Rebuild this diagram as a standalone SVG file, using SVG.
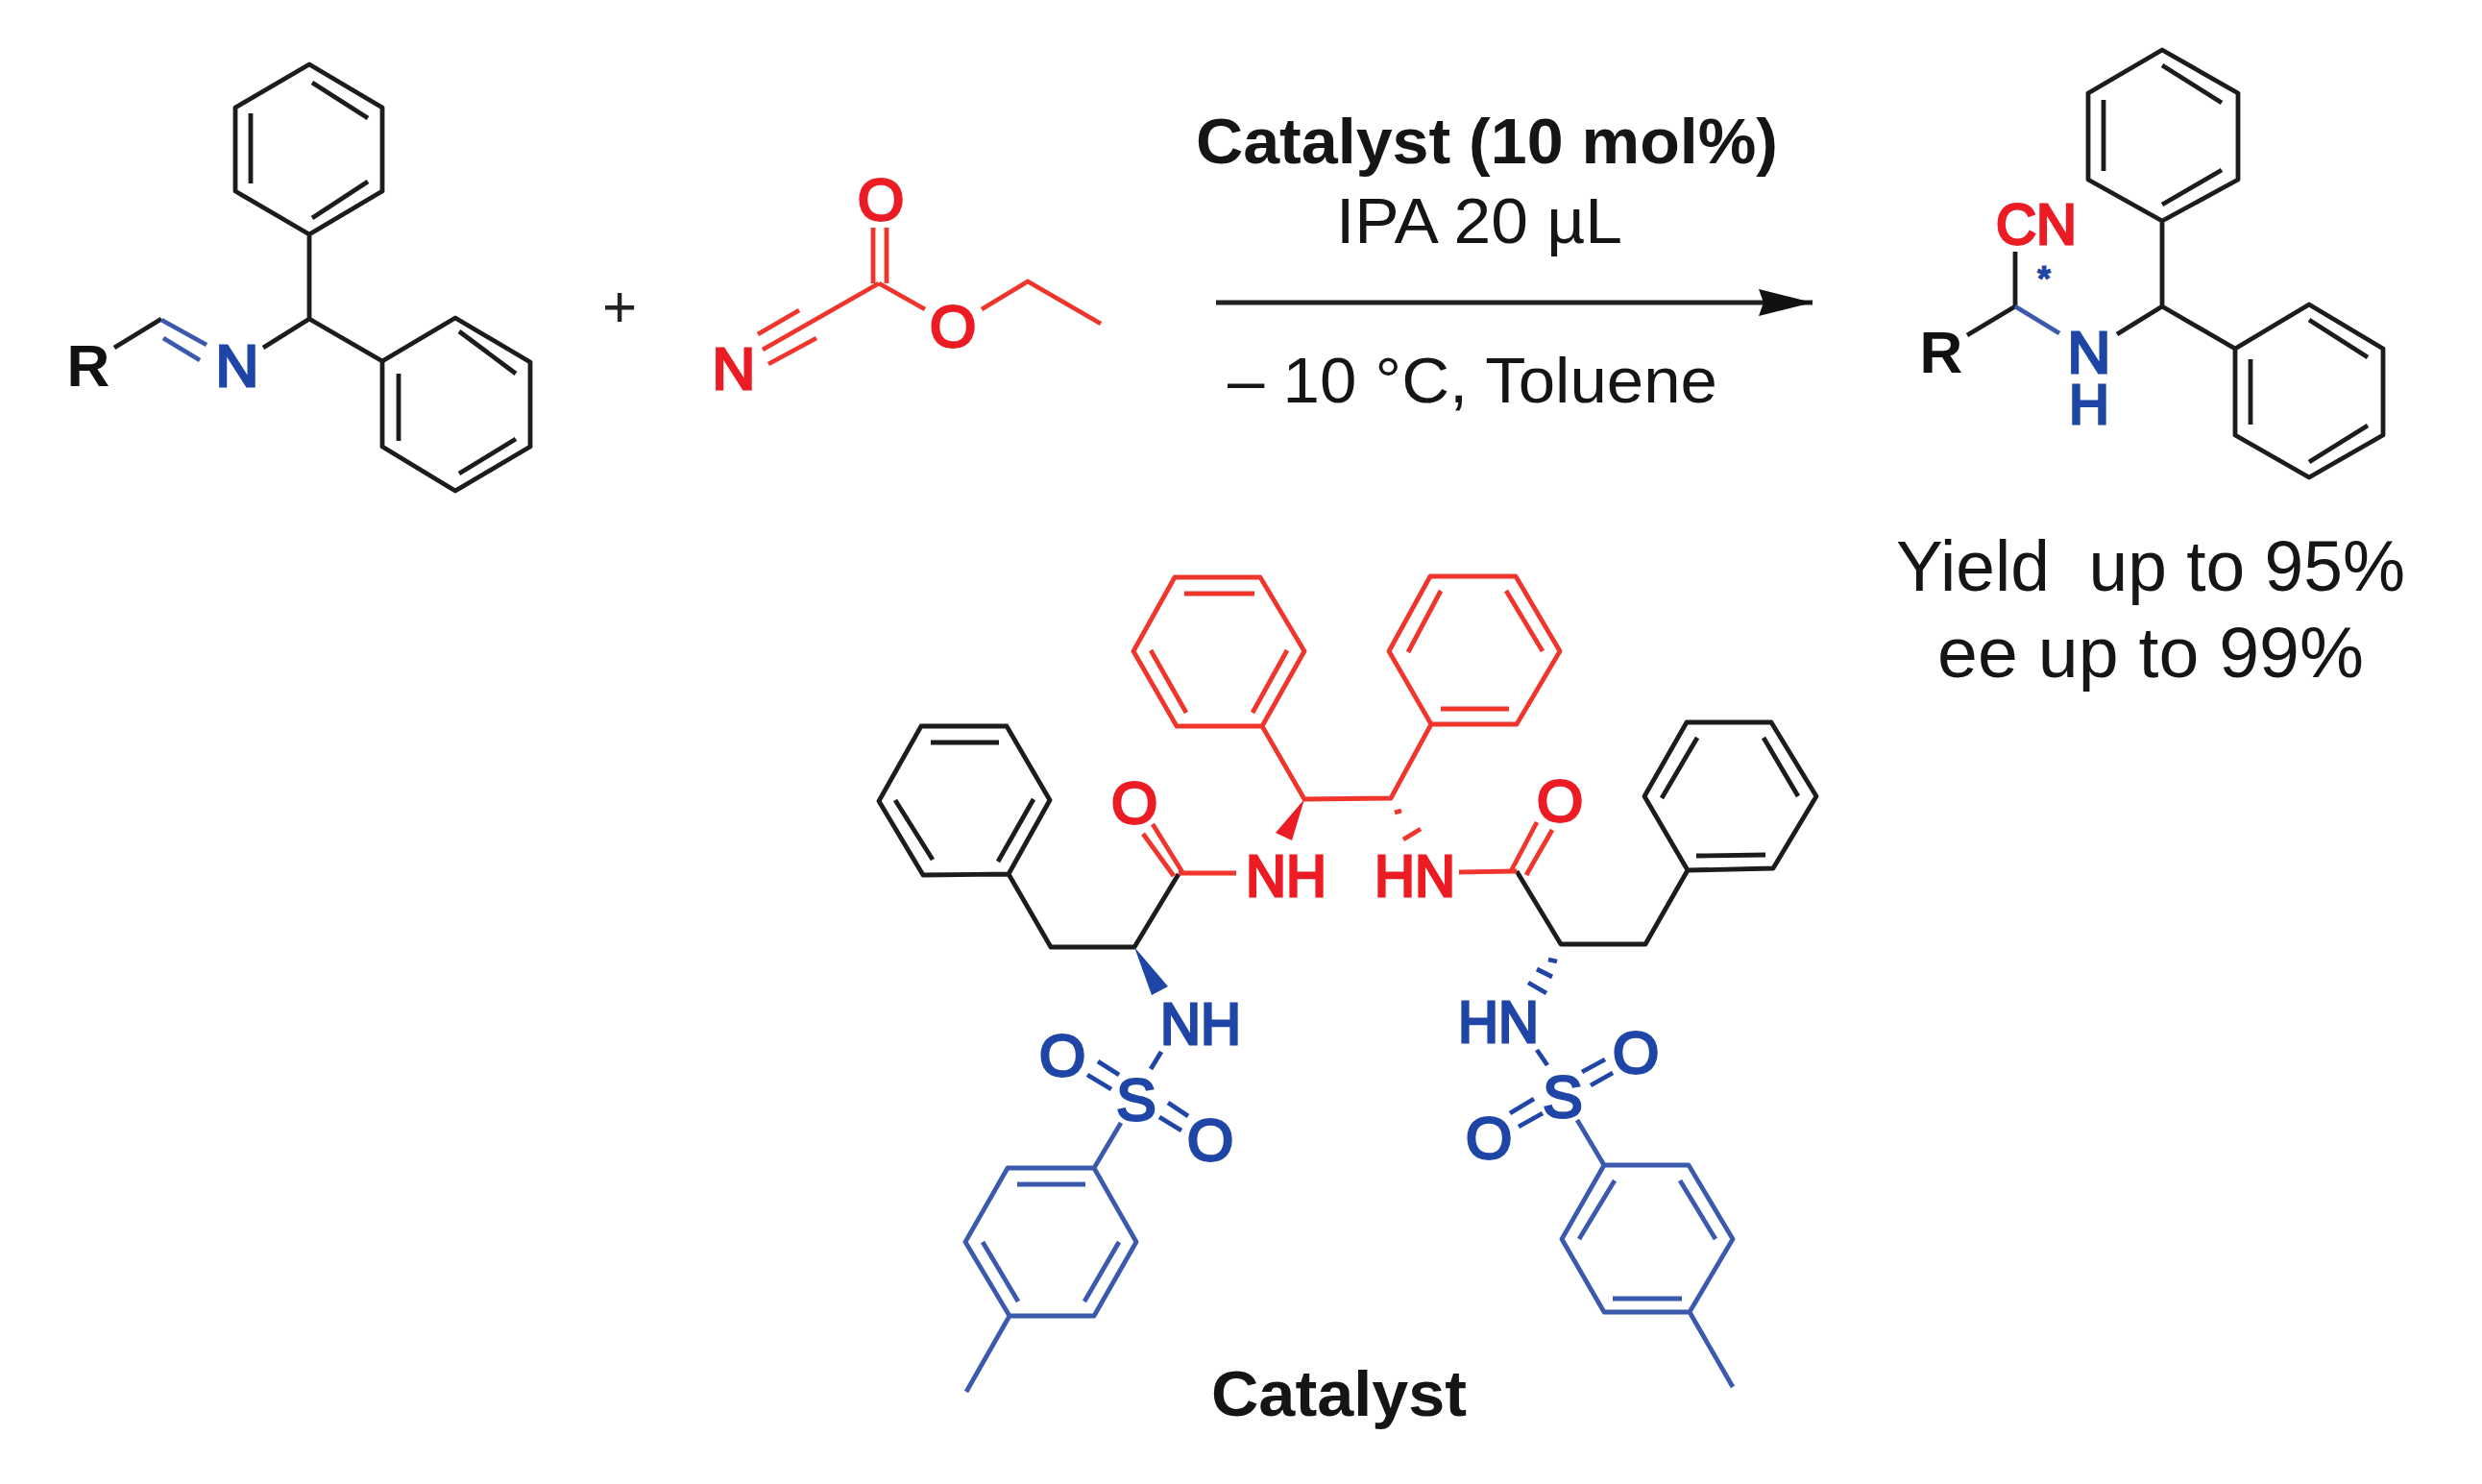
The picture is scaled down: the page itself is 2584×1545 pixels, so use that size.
<svg xmlns="http://www.w3.org/2000/svg" width="2584" height="1545" viewBox="0 0 2584 1545">
<defs>
<marker id="ah" markerUnits="userSpaceOnUse" markerWidth="58" markerHeight="30" refX="56" refY="14" orient="auto"><path d="M0 0L56 14L0 28L5 14Z" fill="#111"/></marker>
</defs>
<style>
text{font-family:"Liberation Sans",Arial,sans-serif}
.b{fill:none;stroke-width:4.8;stroke-linejoin:round;stroke-linecap:butt}
.k{stroke:#1c1c1c}.r{stroke:#f0352c}.u{stroke:#3c5aad}
.a{font-size:62px;font-weight:400;stroke-width:3;text-anchor:middle}
.tr{fill:#ec1c24;stroke:#ec1c24}.tu{fill:#1f46a6;stroke:#1f46a6}.tk{fill:#111;stroke:#111}
.c{font-size:67px;fill:#151515;text-anchor:middle}
.t{font-size:74px}
</style>
<rect width="2584" height="1545" fill="#fff"/>
<g id="imine">
<path class="b k" d="M322 67L398 112V199L322 244L245 199V112ZM325 86L383 123M383 189L325 227M261 118V191M322 244V332L398 376L474 331L552 377V465L474 511L398 465V376M478 345L537 389M537 457L478 493M415 389V459M322 332L274 362M119 362L168 332"/>
<path class="b u" d="M168 333L215 359M170 352L208 375"/>
<text class="a tk" x="92" y="402" style="font-weight:700;stroke-width:0">R</text>
<text class="a tu" x="247" y="402">N</text>
</g>
<text id="plus" x="645" y="340" font-size="62" text-anchor="middle" fill="#222">+</text>
<g id="cyanoformate">
<path class="b r" d="M789 348L832 323M794 364L915 295M800 379L850 352M909 237V295M923 237V295M915 295L963 322M1022 322L1070 293L1146 337"/>
<text class="a tr" x="764" y="405">N</text>
<text class="a tr" x="917" y="229">O</text>
<text class="a tr" x="992" y="361">O</text>
</g>
<g id="conditions">
<text class="c" x="1548" y="170" font-weight="700" textLength="606" lengthAdjust="spacingAndGlyphs">Catalyst (10 mol%)</text>
<text class="c" x="1540" y="253" textLength="298" lengthAdjust="spacingAndGlyphs">IPA 20 µL</text>
<text class="c" x="1533" y="419" textLength="510" lengthAdjust="spacingAndGlyphs">– 10 °C, Toluene</text>
</g>
<g id="connectors">
<path d="M1266 315H1887" fill="none" stroke="#222" stroke-width="5" marker-end="url(#ah)"/>
</g>
<g id="product">
<path class="b k" d="M2048 349L2098 319V262M2204 348L2251 319V230L2330 187V97L2251 52L2174 97V187L2251 230M2251 68L2313 107M2313 177L2251 213M2190 104V178M2251 319L2327 363L2404 317L2481 363V453L2404 497L2327 453V363M2404 333L2465 372M2465 443L2404 481M2343 374V442"/>
<path class="b u" d="M2098 319L2144 347"/>
<text class="a tk" x="2021" y="388" style="font-weight:700;stroke-width:0">R</text>
<text class="a tr" x="2120" y="254" textLength="84" lengthAdjust="spacingAndGlyphs" style="font-size:60px">CN</text>
<text class="a tu" x="2175" y="388">N</text>
<text class="a tu" x="2175" y="441" style="font-size:58px">H</text>
<text x="2128" y="303" font-size="36" font-weight="700" text-anchor="middle" class="tu">*</text>
</g>
<g id="results">
<text class="c t" x="2239" y="615" style="white-space:pre" textLength="530" lengthAdjust="spacingAndGlyphs">Yield  up to 95%</text>
<text class="c t" x="2239" y="705" textLength="444" lengthAdjust="spacingAndGlyphs">ee up to 99%</text>
</g>
<g id="catalyst">
<path class="b k" d="M959 756H1048L1093 833L1050 910L961 911L915 834ZM969 773H1040M932 833L971 895M1076 832L1039 897M1050 910L1094 986H1181L1227 910M1579 907L1625 983H1713L1757 906M1757 906L1846 904L1891 829L1844 752H1756L1712 829ZM1766 891L1838 890M1730 831L1767 768M1836 768L1872 829"/>
<path class="b r" d="M1223 601H1312L1358 678L1314 756H1225L1180 678ZM1233 618H1306M1198 677L1235 742M1340 677L1304 742M1314 756L1358 832L1448 831L1490 754M1490 754H1579L1624 678L1578 600H1489L1446 678ZM1500 738H1571M1466 679L1500 615M1568 615L1606 678M1231 908L1200 858M1222 912L1190 868M1227 909H1287M1519 908L1579 907M1573 907L1600 856M1589 911L1616 864M1452 846L1459 844M1461 874L1479 863"/>
<path d="M1358 832L1328 867L1345 875Z" fill="#ec1c24"/>
<path d="M1181 986L1199 1036L1216 1027Z" fill="#1f46a6"/>
<path class="b u" style="stroke:#1f46a6" d="M1612 999L1621 1001M1600 1009L1616 1017M1591 1023L1610 1034M1600 1093L1611 1109M1647 1116L1671 1103M1656 1130L1679 1117M1572 1159L1597 1144M1581 1173L1606 1159M1209 1095L1198 1113M1143 1105L1165 1119M1132 1119L1157 1134M1216 1148L1237 1162M1207 1163L1230 1177"/>
<path class="b u" d="M1642 1166L1670 1213H1758L1804 1290L1759 1366H1670L1626 1290L1670 1213M1644 1290L1681 1229M1749 1229L1786 1290M1679 1352H1751M1759 1366L1804 1444M1167 1169L1139 1216H1049L1005 1293L1051 1370H1139L1183 1293L1139 1216M1059 1233H1130M1023 1293L1060 1355M1165 1293L1129 1355M1051 1370L1006 1449"/>
<text class="a tr" x="1181" y="857">O</text>
<text class="a tr" x="1624" y="855">O</text>
<text class="a tr" x="1339" y="933" textLength="84" lengthAdjust="spacingAndGlyphs">NH</text>
<text class="a tr" x="1473" y="933" textLength="84" lengthAdjust="spacingAndGlyphs">HN</text>
<text class="a tu" x="1250" y="1087" textLength="84" lengthAdjust="spacingAndGlyphs">NH</text>
<text class="a tu" x="1560" y="1085" textLength="84" lengthAdjust="spacingAndGlyphs">HN</text>
<text class="a tu" x="1183" y="1166">S</text>
<text class="a tu" x="1627" y="1163">S</text>
<text class="a tu" x="1106" y="1120">O</text>
<text class="a tu" x="1260" y="1208">O</text>
<text class="a tu" x="1703" y="1117">O</text>
<text class="a tu" x="1550" y="1206">O</text>
</g>
<text id="catalyst-label" class="c" x="1394" y="1474" font-weight="700" fill="#111" textLength="266" lengthAdjust="spacingAndGlyphs">Catalyst</text>
</svg>
